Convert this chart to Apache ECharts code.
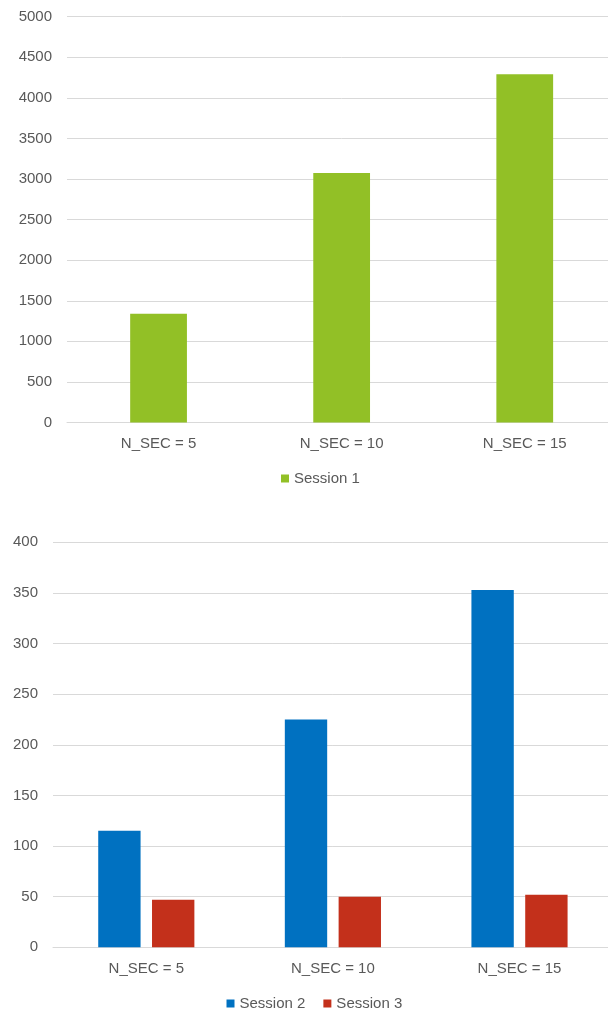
<!DOCTYPE html>
<html>
<head>
<meta charset="utf-8">
<script src="https://cdn.jsdelivr.net/npm/echarts@6/dist/echarts.min.js"></script>
<style>
  html, body { margin: 0; padding: 0; background: #ffffff; overflow: hidden; }
  /* the canvas is a little wider than the page so the plot runs off the right edge */
  #chart { width: 620px; height: 1012px; }
</style>
</head>
<body>
<div id="chart"></div>
<script>
// Categories shared by both panels
const categories = ['N_SEC = 5', 'N_SEC = 10', 'N_SEC = 15'];

// Upper panel: Session 1
const session1 = [1340, 3075, 4290];
const upperTicks = { min: 0, max: 5000, interval: 500 };

// Lower panel: Session 2 and Session 3
const session2 = [115, 225, 353];
const session3 = [47, 50, 52];
const lowerTicks = { min: 0, max: 400, interval: 50 };

const TEXT = '#595959';
const GRID = '#d9d9d9';
const FONT = '"Liberation Sans", Arial, sans-serif';

const axisLabel = { color: TEXT, fontSize: 15, fontFamily: FONT };
const plainNumber = v => String(v);

const chart = echarts.init(document.getElementById('chart'), null, { renderer: 'canvas' });

chart.setOption({
  animation: false,
  backgroundColor: '#ffffff',
  textStyle: { fontFamily: FONT },
  grid: [
    { left: 67, width: 549.3, top: 16.7, height: 405.8 },
    { left: 53, width: 559.8, top: 542.3, height: 405 }
  ],
  legend: [
    {
      data: ['Session 1'],
      left: 281, top: 471, padding: 0,
      icon: 'rect', itemWidth: 8, itemHeight: 8, itemGap: 18,
      textStyle: { color: TEXT, fontSize: 15, fontFamily: FONT }
    },
    {
      data: ['Session 2', 'Session 3'],
      left: 226.5, top: 996, padding: 0,
      icon: 'rect', itemWidth: 8, itemHeight: 8, itemGap: 18,
      textStyle: { color: TEXT, fontSize: 15, fontFamily: FONT }
    }
  ],
  xAxis: [
    {
      type: 'category', gridIndex: 0, data: categories,
      axisLine: { lineStyle: { color: GRID } },
      axisTick: { show: false },
      axisLabel: Object.assign({ margin: 14 }, axisLabel)
    },
    {
      type: 'category', gridIndex: 1, data: categories,
      axisLine: { lineStyle: { color: GRID } },
      axisTick: { show: false },
      axisLabel: Object.assign({ margin: 14 }, axisLabel)
    }
  ],
  yAxis: [
    {
      type: 'value', gridIndex: 0,
      min: upperTicks.min, max: upperTicks.max, interval: upperTicks.interval,
      axisLine: { show: false }, axisTick: { show: false },
      splitLine: { lineStyle: { color: GRID } },
      axisLabel: Object.assign({ margin: 15, formatter: plainNumber }, axisLabel)
    },
    {
      type: 'value', gridIndex: 1,
      min: lowerTicks.min, max: lowerTicks.max, interval: lowerTicks.interval,
      axisLine: { show: false }, axisTick: { show: false },
      splitLine: { lineStyle: { color: GRID } },
      axisLabel: Object.assign({ margin: 15, formatter: plainNumber }, axisLabel)
    }
  ],
  series: [
    {
      name: 'Session 1', type: 'bar', xAxisIndex: 0, yAxisIndex: 0,
      data: session1, barWidth: '31%',
      itemStyle: { color: '#92C026' }
    },
    {
      name: 'Session 2', type: 'bar', xAxisIndex: 1, yAxisIndex: 1,
      data: session2, barWidth: '22.7%', barGap: '27%',
      itemStyle: { color: '#0071C1' }
    },
    {
      name: 'Session 3', type: 'bar', xAxisIndex: 1, yAxisIndex: 1,
      data: session3, barWidth: '22.7%', barGap: '27%',
      itemStyle: { color: '#C3301B' }
    }
  ]
});
</script>
</body>
</html>
